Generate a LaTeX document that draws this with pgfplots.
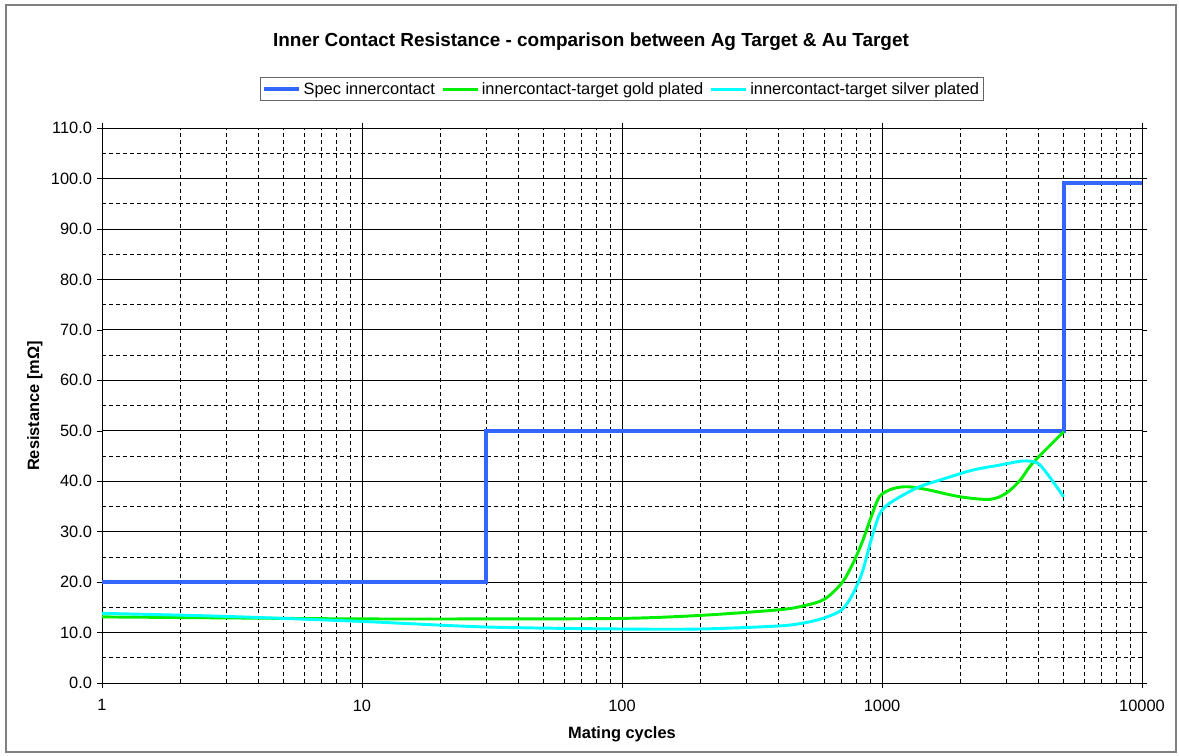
\documentclass[border=0pt]{standalone}
\usepackage{fontspec}
\setmainfont{Liberation Sans}
\usepackage{pgfplots}
\pgfplotsset{compat=1.18}

\definecolor{specblue}{HTML}{3366FF}
\definecolor{goldgreen}{HTML}{00EE00}
\definecolor{silvercyan}{HTML}{00FFFF}

\begin{document}
\begin{tikzpicture}
\begin{axis}[
    scale only axis,
    width=780pt, height=416.25pt,
    xmode=log,
    xmin=1, xmax=10000,
    ymin=0, ymax=110,
    xtick={1,10,100,1000,10000},
    xticklabels={1,10,100,1000,10000},
    ytick={0,10,...,110},
    minor ytick={5,15,...,105},
    yticklabel={\pgfmathprintnumber[fixed,fixed zerofill,precision=1]{\tick}},
    /pgf/number format/assume math mode=true,
    ticklabel style={font=\fontsize{12.3}{14}\selectfont},
    xticklabel style={yshift=-5pt},
    grid=both,
    major grid style={black, line width=0.5pt},
    minor grid style={black, line width=0.5pt, dash pattern=on 3pt off 2.25pt},
    tick align=outside,
    major tick length=4pt,
    minor tick length=0pt,
    tick style={black},
    axis line style={black, line width=0.6pt},
    legend columns=-1,
    legend style={at={(0.5,1.07)}, anchor=center, draw=black!60, line width=0.6pt,
        font=\fontsize{12.3}{14}\selectfont, inner sep=1.5pt,
        /tikz/every even column/.append style={column sep=3pt}},
    legend image code/.code={\draw[#1] (0pt,0pt) -- (26pt,0pt);},
]

\addplot[specblue, line width=3pt, line join=miter] coordinates {
(1,20) (30,20) (30,50) (5000,50) (5000,99) (10000,99)
};
\addlegendentry{Spec innercontact}

\addplot[goldgreen, line width=2.2pt, smooth, tension=0.5] coordinates {
(1,13.1) (3,12.9) (10,12.7) (30,12.7) (100,12.8) (200,13.4) (400,14.5)
(500,15.3) (600,16.6) (700,19.8) (770,23.5) (840,28) (910,33) (980,37.0)
(1100,38.5) (1250,38.9) (1500,38.3) (2000,36.9) (2600,36.4) (3000,37.6)
(3400,40.2) (3800,43.6) (5000,49.8)
};
\addlegendentry{innercontact-target gold plated}

\addplot[silvercyan, line width=2.2pt, smooth, tension=0.5] coordinates {
(1,13.8) (3,13.2) (10,12.2) (30,11.1) (100,10.7) (200,10.7) (400,11.3)
(500,11.9) (600,12.9) (700,14.5) (770,17.5) (840,22) (910,28.5) (980,33.5)
(1075,35.7) (1365,38.7) (1665,40.2) (2235,42.2) (2840,43.2) (3480,44)
(3960,43.6) (4300,41.6) (5000,36.9)
};
\addlegendentry{innercontact-target silver plated}

\end{axis}

\begin{scope}[shift={(current axis.south west)}, x=0.75pt, y=0.75pt]
  \draw[gray, line width=0.8pt] (-96,-69) rectangle (1074,678);
  \path (-102,-73) rectangle (1077,683);
  \node[font=\fontsize{14.2}{16}\selectfont\bfseries] at (489,641)
    {Inner Contact Resistance - comparison between Ag Target \& Au Target};
  \node[font=\fontsize{12.3}{14}\selectfont\bfseries] at (520,-51) {Mating cycles};
  \node[font=\fontsize{12.3}{14}\selectfont\bfseries, rotate=90] at (-67,277) {Resistance [mΩ]};
\end{scope}
\end{tikzpicture}
\end{document}
